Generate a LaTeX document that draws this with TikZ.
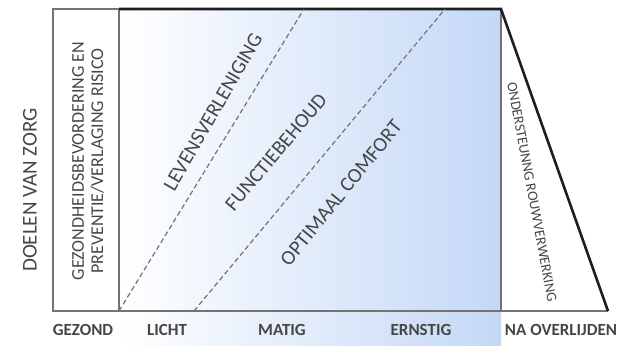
\documentclass[tikz,border=0pt]{standalone}
\usepackage{fontspec}
\setmainfont{Carlito}
\definecolor{LabelGray}{RGB}{70,70,70}
\definecolor{CareBlue}{RGB}{196,216,246}
\definecolor{FrameGray}{RGB}{115,115,115}
\definecolor{FrameDark}{RGB}{30,30,30}

\begin{document}
\begin{tikzpicture}[x=0.5pt, y=-0.5pt,
    goal/.style={font=\fontsize{10.3}{12}\selectfont, text=LabelGray, inner sep=0pt},
    stage/.style={font=\fontsize{8.5}{9}\selectfont\bfseries, text=LabelGray, inner sep=0pt},
    thinframe/.style={draw=FrameGray, line width=0.6pt},
    thickframe/.style={draw=FrameDark, line width=1.3pt},
    border/.style={draw=FrameGray, line width=0.6pt, dash pattern=on 2.5pt off 1.5pt}
  ]
    \useasboundingbox (0,0) rectangle (626,345);

    % Background
    \shade[left color=white, right color=CareBlue] (119,9) rectangle (501,345);

    % Corners
    \coordinate (boxTL) at (53,9);
    \coordinate (boxBL) at (53,311);
    \coordinate (mainTL) at (119,9);
    \coordinate (mainBL) at (119,311);
    \coordinate (mainTR) at (501,9);
    \coordinate (mainBR) at (501,311);
    \coordinate (endBR) at (608,311);
    \coordinate (lineA) at (304,9);
    \coordinate (lineB) at (194,311);
    \coordinate (lineC) at (445,9);

    % Frame
    \draw[thinframe] (mainTL) -- (boxTL) -- (boxBL) -- (endBR);
    \draw[thinframe] (mainTL) -- (mainBL);
    \draw[thinframe] (mainTR) -- (mainBR);
    \draw[thickframe] (mainTL) -- (mainTR) -- (endBR);

    % Borders between goals
    \draw[border] (mainBL) -- (lineA);
    \draw[border] (lineB) -- (lineC);

    % Goals
    \node[goal, rotate=90, font=\fontsize{10.5}{12}\selectfont] (doelen) at (30,190) {DOELEN VAN ZORG};
    \node[goal, rotate=90, align=center, font=\fontsize{9}{9.6}\selectfont] (preventie) at (88,161)
      {GEZONDHEIDSBEVORDERING EN\\PREVENTIE/VERLAGING RISICO};
    \node[goal, rotate=60] (leven) at (213,112) {LEVENSVERLENIGING};
    \node[goal, rotate=50] (functie) at (276,152) {FUNCTIEBEHOUD};
    \node[goal, rotate=51] (comfort) at (341,193) {OPTIMAAL COMFORT};
    \node[goal, rotate=-79.5, font=\fontsize{7.2}{8}\selectfont] (rouw) at (532,192) {ONDERSTEUNNG ROUWVERWERKING};

    % Stages
    \node[stage] (gezond) at (83,330) {GEZOND};
    \node[stage] (licht) at (167,330) {LICHT};
    \node[stage] (matig) at (282,330) {MATIG};
    \node[stage] (ernstig) at (421,330) {ERNSTIG};
    \node[stage] (overlijden) at (561,330) {NA OVERLIJDEN};
  \end{tikzpicture}
\end{document}
